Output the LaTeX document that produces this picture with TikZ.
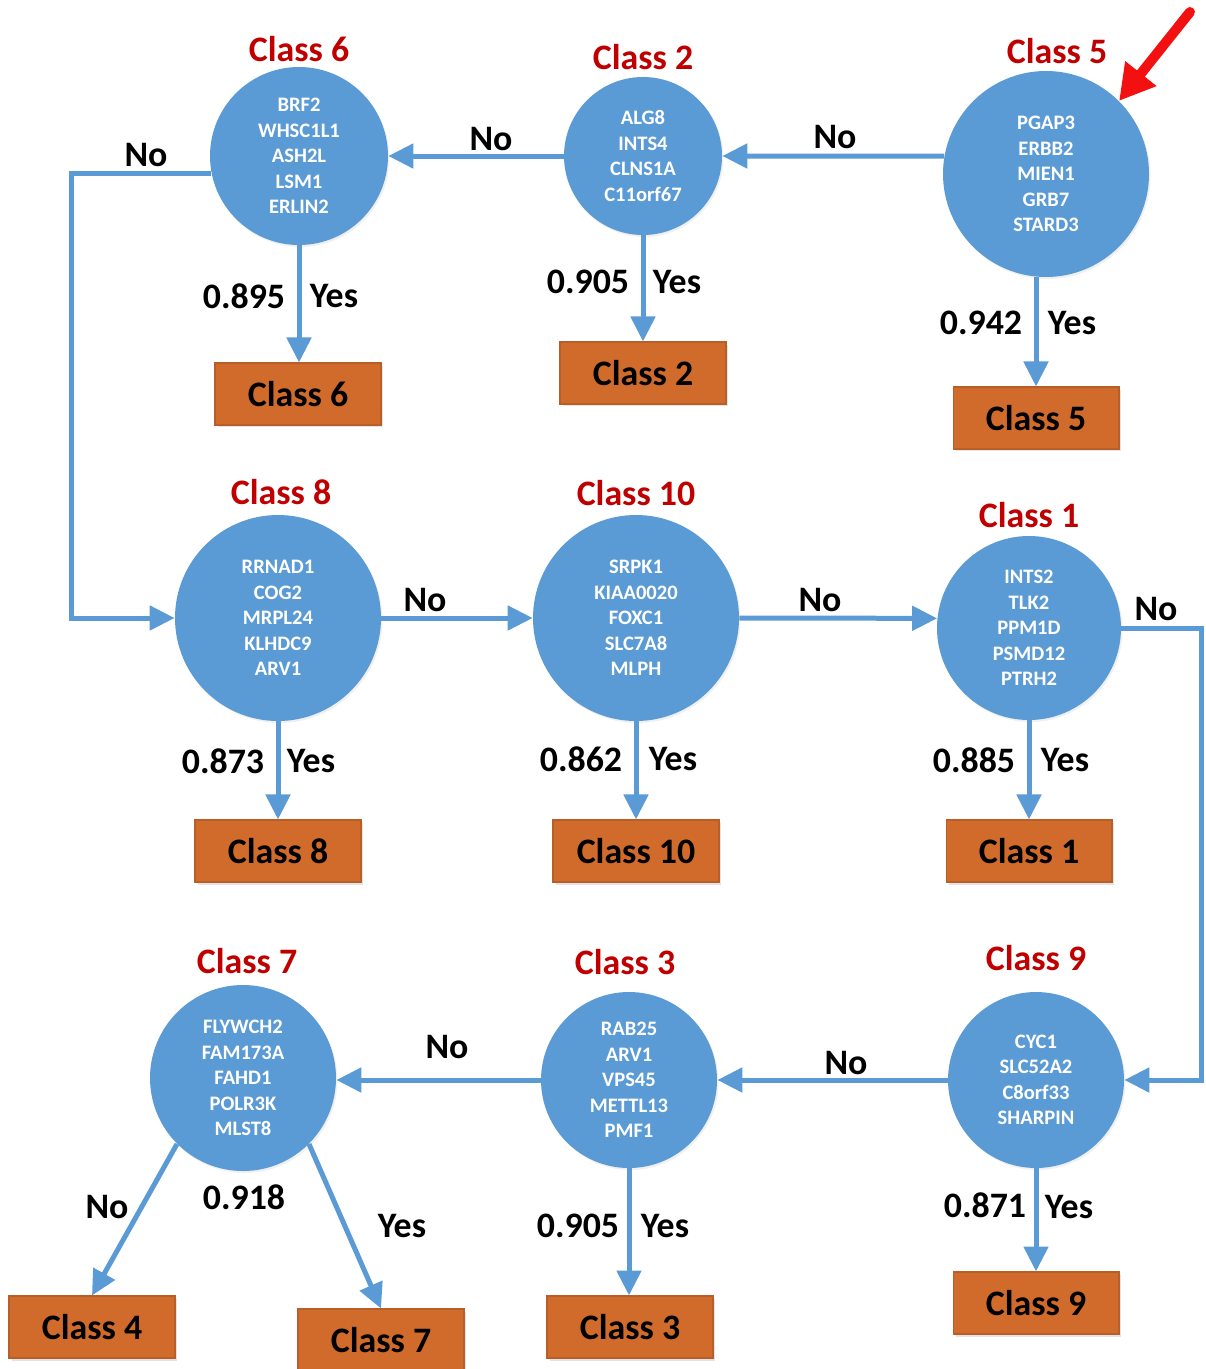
\documentclass[tikz,border=0pt]{standalone}
\usepackage{fontspec}
\setmainfont{Carlito}
\usetikzlibrary{arrows.meta,shadows,calc}
\definecolor{cblue}{HTML}{5B9BD5}
\definecolor{boxor}{HTML}{D16B2C}
\definecolor{boxedge}{HTML}{B85E28}
\definecolor{ttlred}{HTML}{C00000}
\definecolor{ptred}{HTML}{F21010}
\begin{document}
\begin{tikzpicture}[x=0.02cm,y=-0.02cm,
  gene/.style={circle, fill=cblue, inner sep=0pt, minimum size=#1*0.02cm,
    text=white, align=center, font=\fontsize{11.7}{14.5}\selectfont\bfseries,
    drop shadow={shadow xshift=0.03cm, shadow yshift=-0.04cm, opacity=0.12}},
  leaf/.style={rectangle, fill=boxor, draw=boxedge, line width=0.6pt,
    minimum width=3.32cm, minimum height=1.24cm,
    font=\fontsize{20.4}{24}\selectfont\bfseries,
    drop shadow={shadow xshift=0.05cm, shadow yshift=-0.05cm, opacity=0.22}},
  ttl/.style={text=ttlred, font=\fontsize{20.4}{24}\selectfont\bfseries, inner sep=0pt},
  lbl/.style={font=\fontsize{20.4}{24}\selectfont\bfseries, inner sep=0pt},
  flow/.style={draw=cblue, line width=0.1cm, -{Triangle[length=0.5cm,width=0.48cm]}},
  pointer/.style={draw=ptred, line width=0.2cm, line cap=round, -{Triangle[length=0.7cm,width=0.75cm]}},
]
\useasboundingbox (0,0) rectangle (1206,1369);

% decision nodes
\node[gene=178] (c6)  at (299,156)  {BRF2\\WHSC1L1\\ASH2L\\LSM1\\ERLIN2};
\node[gene=158] (c2)  at (643,156)  {ALG8\\INTS4\\CLNS1A\\C11orf67};
\node[gene=206] (c5)  at (1046,174) {PGAP3\\ERBB2\\MIEN1\\GRB7\\STARD3};
\node[gene=206] (c8)  at (278,618)  {RRNAD1\\COG2\\MRPL24\\KLHDC9\\ARV1};
\node[gene=206] (c10) at (636,618)  {SRPK1\\KIAA0020\\FOXC1\\SLC7A8\\MLPH};
\node[gene=184] (c1)  at (1029,628) {INTS2\\TLK2\\PPM1D\\PSMD12\\PTRH2};
\node[gene=176] (c9)  at (1036,1080) {CYC1\\SLC52A2\\C8orf33\\SHARPIN};
\node[gene=176] (c3)  at (629,1080) {RAB25\\ARV1\\VPS45\\METTL13\\PMF1};
\node[gene=186] (c7)  at (243,1078) {FLYWCH2\\FAM173A\\FAHD1\\POLR3K\\MLST8};

% node titles
\node[ttl] (t6)  at (299,49)   {Class 6};
\node[ttl] (t2)  at (643,57)   {Class 2};
\node[ttl] (t5)  at (1057,51)  {Class 5};
\node[ttl] (t8)  at (281,492)  {Class 8};
\node[ttl] (t10) at (636,493)  {Class 10};
\node[ttl] (t1)  at (1029,515) {Class 1};
\node[ttl] (t9)  at (1036,958) {Class 9};
\node[ttl] (t3)  at (625,962)  {Class 3};
\node[ttl] (t7)  at (247,961)  {Class 7};

% leaves
\node[leaf] (b6)  at (298,394)  {Class 6};
\node[leaf] (b2)  at (643,373)  {Class 2};
\node[leaf] (b5)  at (1036,418) {Class 5};
\node[leaf] (b8)  at (278,851)  {Class 8};
\node[leaf] (b10) at (636,851)  {Class 10};
\node[leaf] (b1)  at (1029,851) {Class 1};
\node[leaf] (b9)  at (1036,1303) {Class 9};
\node[leaf] (b3)  at (630,1327) {Class 3};
\node[leaf] (b4)  at (92,1327)  {Class 4};
\node[leaf] (b7)  at (381,1340) {Class 7};

% bend points of the long connectors
\coordinate (lft) at (71,618);
\coordinate (rgt) at (1201,1080);
\coordinate (ptail) at (1190,12);

% "No" connectors
\draw[flow] (c5.170) -- (c2.east);
\draw[flow] (c2.west) -- (c6.east);
\draw[flow] (c6.191) -| (lft) -- (c8.west);
\draw[flow] (c8.east) -- (c10.west);
\draw[flow] (c10.east) -- (c1.174);
\draw[flow] (c1.east) -| (rgt) -- (c9.east);
\draw[flow] (c9.west) -- (c3.east);
\draw[flow] (c3.west) -- (c3.west -| c7.east);
\draw[flow] (c7.225) -- (b4.north);

% "Yes" connectors
\draw[flow] (c6.south) -- (c6.south |- b6.north);
\draw[flow] (c2.south) -- (b2.north);
\draw[flow] (c5.south -| b5.north) -- (b5.north);
\draw[flow] (c8.south) -- (b8.north);
\draw[flow] (c10.south) -- (b10.north);
\draw[flow] (c1.south) -- (b1.north);
\draw[flow] (c9.south) -- (b9.north);
\draw[flow] (c3.south) -- (c3.south |- b3.north);
\draw[flow] (c7.315) -- (b7.north);

% branch labels
\node[lbl] (n52)  at (835,137)  {No};
\node[lbl] (n26)  at (491,139)  {No};
\node[lbl] (n68)  at (146,155)  {No};
\node[lbl] (n810) at (425,600)  {No};
\node[lbl] (n101) at (820,600)  {No};
\node[lbl] (n19)  at (1156,609) {No};
\node[lbl] (n93)  at (846,1063) {No};
\node[lbl] (n37)  at (447,1047) {No};
\node[lbl] (n74)  at (107,1207) {No};

\node[lbl] (v6)  at (244,296)  {0.895};
\node[lbl] (y6)  at (334,296)  {Yes};
\node[lbl] (v2)  at (588,282)  {0.905};
\node[lbl] (y2)  at (677,282)  {Yes};
\node[lbl] (v5)  at (981,323)  {0.942};
\node[lbl] (y5)  at (1072,323) {Yes};
\node[lbl] (v8)  at (223,761)  {0.873};
\node[lbl] (y8)  at (311,761)  {Yes};
\node[lbl] (v10) at (581,759)  {0.862};
\node[lbl] (y10) at (673,759)  {Yes};
\node[lbl] (v1)  at (974,760)  {0.885};
\node[lbl] (y1)  at (1065,760) {Yes};
\node[lbl] (v9)  at (985,1205) {0.871};
\node[lbl] (y9)  at (1069,1207) {Yes};
\node[lbl] (v3)  at (578,1226) {0.905};
\node[lbl] (y3)  at (665,1226) {Yes};
\node[lbl] (v7)  at (244,1197) {0.918};
\node[lbl] (y7)  at (402,1226) {Yes};

% highlight pointer
\draw[pointer] (ptail) -- (c5.45);
\end{tikzpicture}
\end{document}
